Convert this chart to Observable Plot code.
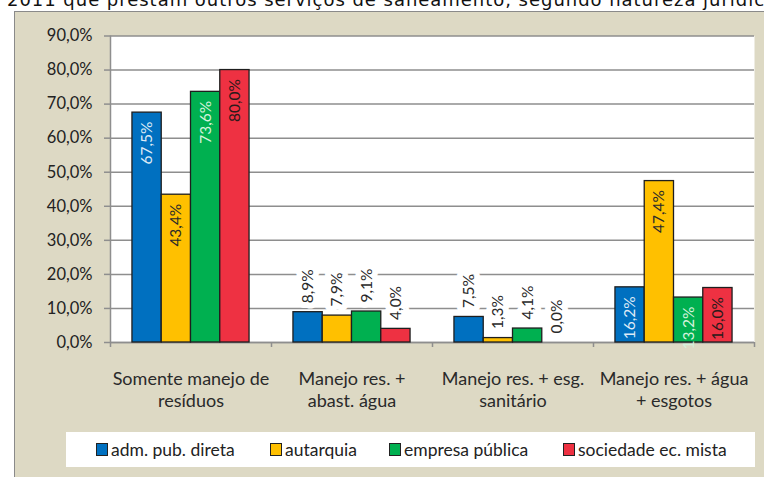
<!DOCTYPE html>
<html>
<head>
<meta charset="utf-8">
<script src="https://cdn.jsdelivr.net/npm/d3@7"></script>
<script src="https://cdn.jsdelivr.net/npm/@observablehq/plot@0.6"></script>
<style>
  html, body { margin: 0; padding: 0; background: #fff; overflow: hidden; }
  #page { position: relative; width: 764px; height: 477px; overflow: hidden; font-family: Lato, sans-serif; }
  #title { position: absolute; left: 7px; top: -9px; font-family: "DejaVu Sans", sans-serif; font-size: 18px; line-height: 18px; white-space: nowrap; color: #111; }
  #panel { position: absolute; left: 14px; top: 11px; width: 750px; height: 466px; background: #DDD9C4;
           border-left: 1.5px solid #8a8a8a; border-top: 1.5px solid #8a8a8a; box-sizing: border-box; }
  #chart { position: absolute; left: 0; top: 0; }
  #legend { position: absolute; left: 66px; top: 432px; width: 689px; height: 35px; background: #fff; }
  .item { position: absolute; top: 0; height: 35px; display: flex; align-items: center; font-size: 17.5px; color: #222; white-space: nowrap; }
  .sw { width: 10px; height: 11px; border: 1.5px solid #222; margin-right: 3px; }
</style>
</head>
<body>
<div id="page">
  <div id="title">2011 que prestam outros serviços de saneamento, segundo natureza jurídica</div>
  <div id="panel"></div>
  <div id="chart"></div>
  <div id="legend"></div>
</div>
<script>
// ---- data ----
const categories = ["Somente manejo de\nresíduos", "Manejo res. +\nabast. água", "Manejo res. + esg.\nsanitário", "Manejo res. + água\n+ esgotos"];
const series = ["adm. pub. direta", "autarquia", "empresa pública", "sociedade ec. mista"];
const admPubDireta = [67.5, 8.9, 7.5, 16.2];
const autarquia = [43.4, 7.9, 1.3, 47.4];
const empresaPublica = [73.6, 9.1, 4.1, 13.2];
const sociedadeEcMista = [80.0, 4.0, 0.0, 16.0];
const yTicks = [0, 10, 20, 30, 40, 50, 60, 70, 80, 90];

const colors = ["#0070C0", "#FFC000", "#00B050", "#EE3142"];
const insideText = ["#DDEAF6", "#2a2a2a", "#D4F2DC", "#2a1a1a"];
const legendX = [96, 270, 389, 563];

const seriesValues = [admPubDireta, autarquia, empresaPublica, sociedadeEcMista];
const pad = 0.75, slots = series.length + 2 * pad;
const rows = [];
categories.forEach((c, ci) => {
  series.forEach((s, si) => {
    rows.push({cat: c, ci, series: s, si, value: seriesValues[si][ci],
      x1: ci + (pad + si) / slots, x2: ci + (pad + si + 1) / slots});
  });
});
const fmt = d => d.value.toFixed(1).replace(".", ",") + "%";
const mid = d => (d.x1 + d.x2) / 2;
const inside = d => d.value >= 12;

const grid = "#8e8e8e";

const chart = Plot.plot({
  width: 764,
  height: 477,
  marginLeft: 110,
  marginRight: 10,
  marginTop: 35.5,
  marginBottom: 135,
  style: {background: "transparent", fontFamily: "Lato, sans-serif", color: "#222"},
  x: {domain: [0, categories.length], axis: null},
  y: {domain: [0, 90], axis: null},
  color: {domain: series, range: colors},
  marks: [
    Plot.frame({fill: "white", stroke: "none"}),
    Plot.gridY(yTicks, {stroke: grid, strokeOpacity: 1, strokeWidth: 1.5}),
    Plot.ruleX([0], {stroke: grid, strokeWidth: 1.5}),
    Plot.ruleY([0], {stroke: grid, strokeWidth: 1.5}),
    Plot.axisY({ticks: yTicks, label: null, tickSize: 6, tickPadding: 12, stroke: grid, strokeWidth: 1.5,
      tickFormat: d => d.toFixed(1).replace(".", ",") + "%", fontSize: 16.5, fill: "#222"}),
    Plot.axisX({ticks: d3.range(0, categories.length + 1), label: null, tickSize: 5, stroke: grid, strokeWidth: 1.5,
      tickFormat: () => ""}),
    Plot.rectY(rows.filter(d => d.value > 0), {x1: "x1", x2: "x2", y: "value", fill: "series",
      stroke: "#1e1e1e", strokeWidth: 1.3}),
    Plot.text(rows.filter(inside), {x: mid, y: "value", text: fmt, rotate: -90, textAnchor: "end",
      dy: 9, fill: d => insideText[d.si], fontSize: 15.5}),
    Plot.text(rows.filter(d => !inside(d)), {x: mid, y: "value", text: fmt, rotate: -90, textAnchor: "start",
      dy: -9, fill: "#2a2a2a", stroke: "white", strokeWidth: 12, paintOrder: "stroke", fontSize: 15.5}),
    Plot.text(categories, {x: (d, i) => i + 0.5, frameAnchor: "bottom", lineAnchor: "top", dy: 27,
      lineHeight: 1.22, fontSize: 18, fill: "#2a2a2a"})
  ]
});
document.getElementById("chart").appendChild(chart);

const legend = document.getElementById("legend");
series.forEach((s, i) => {
  const item = document.createElement("div");
  item.className = "item";
  item.style.left = (legendX[i] - 66) + "px";
  const sw = document.createElement("div");
  sw.className = "sw";
  sw.style.background = colors[i];
  item.appendChild(sw);
  item.appendChild(document.createTextNode(s));
  legend.appendChild(item);
});

// stretch the clipped header line to the reference's width
const title = document.getElementById("title");
const text = title.textContent;
const w = title.getBoundingClientRect().width;
title.style.letterSpacing = ((770 - w) / text.length) + "px";
</script>
</body>
</html>
